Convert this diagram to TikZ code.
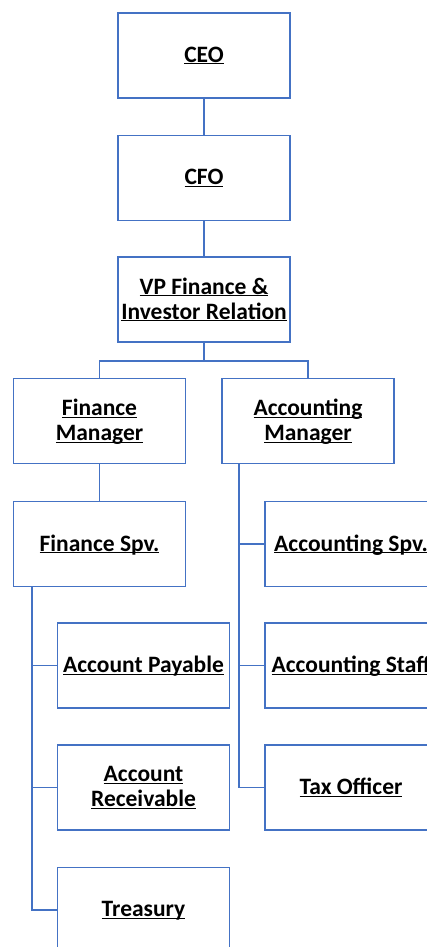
\documentclass[tikz,border=0pt]{standalone}
\usepackage{fontspec}
\setmainfont{Carlito}
\usepackage{tikz}
\definecolor{boxblue}{HTML}{4472C4}
\newcommand{\ul}[1]{\underline{\raisebox{0pt}[\height][0pt]{#1}}}
\tikzset{
  post/.style={draw=boxblue,line width=1.8pt,fill=white,minimum width=172pt,minimum height=85pt,
    align=center,font=\fontsize{23.5}{25}\selectfont\bfseries,inner sep=0pt},
  link/.style={draw=boxblue,line width=1.8pt}
}
\begin{document}
\begin{tikzpicture}[x=1pt,y=-1pt]
			\useasboundingbox(0,0)rectangle(427,947);
			\clip(0,0)rectangle(427,947);
			\node[post](ceo)at(204,55.5){\ul{CEO}};
			\node[post](cfo)at(204,178){\ul{CFO}};
			\node[post](vp)at(204,299.5){\ul{VP Finance \&}\\\ul{Investor Relation}};
			\node[post](fm)at(99.5,421){\ul{Finance}\\\ul{Manager}};
			\node[post](am)at(308,421){\ul{Accounting}\\\ul{Manager}};
			\node[post](fs)at(99.5,544){\ul{Finance Spv.}};
			\node[post](as)at(351,544){\ul{Accounting Spv.}};
			\node[post](ap)at(143.5,665.5){\ul{Account Payable}};
			\node[post](st)at(351,665.5){\ul{Accounting Staff}};
			\node[post](ar)at(143.5,787.5){\ul{Account}\\\ul{Receivable}};
			\node[post](tx)at(351,787.5){\ul{Tax Officer}};
			\node[post](tr)at(143.5,910){\ul{Treasury}};
			\coordinate(bar)at(204,361);
			\coordinate(ftrunk)at(32,587);
			\coordinate(atrunk)at(239,464);
			\draw[link](ceo)--(cfo);
			\draw[link](cfo)--(vp);
			\draw[link](vp.south)--(bar);
			\draw[link](fm.north)|-(bar)-|(am.north);
			\draw[link](fm)--(fs);
			\draw[link](ftrunk)|-(ap.west);
			\draw[link](ftrunk)|-(ar.west);
			\draw[link](ftrunk)|-(tr.west);
			\draw[link](atrunk)|-(as.west);
			\draw[link](atrunk)|-(st.west);
			\draw[link](atrunk)|-(tx.west);
		\end{tikzpicture}
\end{document}
